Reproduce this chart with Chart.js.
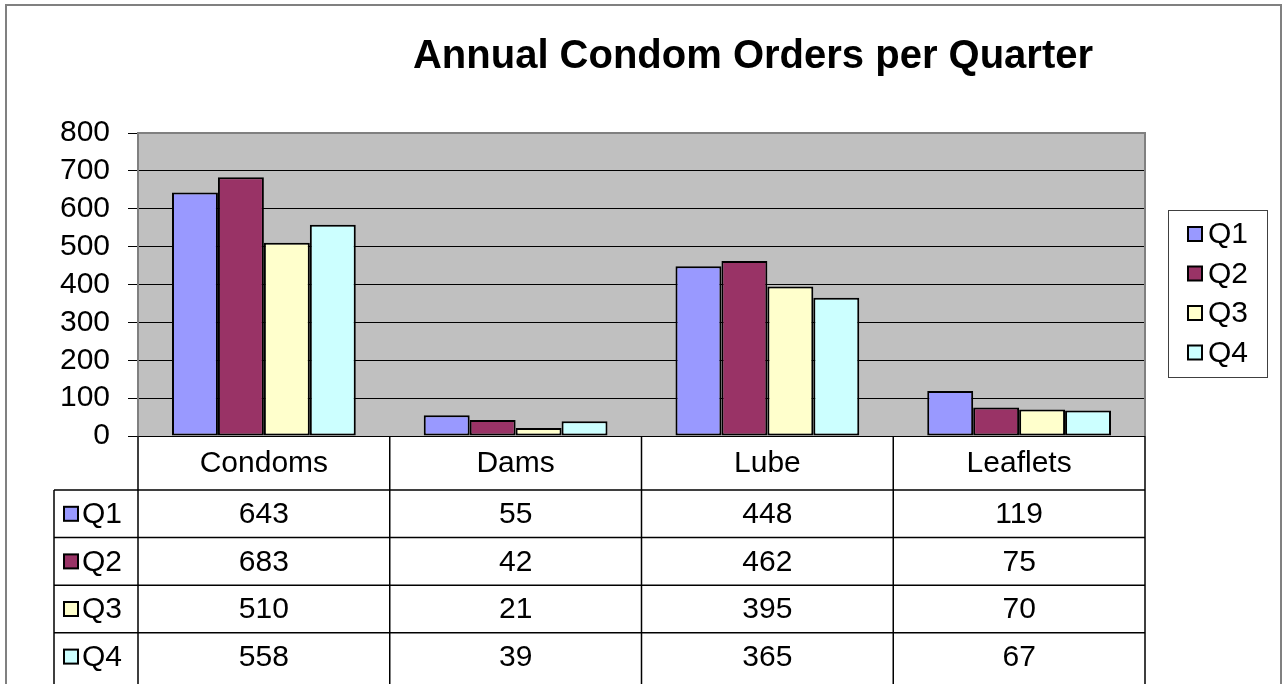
<!DOCTYPE html>
<html>
<head>
<meta charset="utf-8">
<title>Annual Condom Orders per Quarter</title>
<script src="https://cdn.jsdelivr.net/npm/chart.js@4"></script>
<style>
  body { margin: 0; background: #fff; }
  canvas { display: block; }
</style>
</head>
<body>
<canvas id="ordersChart" width="1287" height="684"></canvas>
<script>
// data
const categories = ['Condoms', 'Dams', 'Lube', 'Leaflets'];
const seriesNames = ['Q1', 'Q2', 'Q3', 'Q4'];
const q1 = [643, 55, 448, 119];
const q2 = [683, 42, 462, 75];
const q3 = [510, 21, 395, 70];
const q4 = [558, 39, 365, 67];
const yTicks = [0, 100, 200, 300, 400, 500, 600, 700, 800];

const seriesValues = [q1, q2, q3, q4];
const seriesColors = ['#9999FF', '#993366', '#FFFFCC', '#CCFFFF'];
const FONT = '"Liberation Sans", Arial, sans-serif';

Chart.defaults.font.family = FONT;
Chart.defaults.color = '#000';

// grey plot area + frame around it
const plotBg = {
    id: 'plotBg',
    beforeDraw(chart) {
        const ctx = chart.ctx;
        const a = chart.chartArea;
        ctx.save();
        ctx.fillStyle = '#fff';
        ctx.fillRect(0, 0, chart.width, chart.height);
        ctx.fillStyle = '#C0C0C0';
        ctx.fillRect(a.left, a.top, a.right - a.left, a.bottom - a.top);
        // outer frame (bottom is cut off in the picture)
        ctx.strokeStyle = '#808080';
        ctx.lineWidth = 2;
        ctx.beginPath();
        ctx.moveTo(6, chart.height + 5);
        ctx.lineTo(6, 5);
        ctx.lineTo(1281, 5);
        ctx.lineTo(1281, chart.height + 5);
        ctx.stroke();
        ctx.restore();
    },
    beforeDatasetsDraw(chart) {
        const ctx = chart.ctx;
        const a = chart.chartArea;
        ctx.save();
        ctx.strokeStyle = '#808080';
        ctx.lineWidth = 2;
        ctx.beginPath();
        ctx.moveTo(a.left, a.top);
        ctx.lineTo(a.right, a.top);
        ctx.lineTo(a.right, a.bottom);
        ctx.stroke();
        ctx.restore();
    }
};

// title, legend box and the data table under the plot
const extras = {
    id: 'extras',
    afterDraw(chart) {
        const ctx = chart.ctx;
        const a = chart.chartArea;
        const xs = chart.scales.x;
        const colW = (a.right - a.left) / categories.length;

        ctx.save();
        ctx.fillStyle = '#000';
        ctx.textBaseline = 'middle';

        // title
        ctx.font = 'bold 40px ' + FONT;
        ctx.textAlign = 'center';
        ctx.fillText('Annual Condom Orders per Quarter', 753, 57);

        // legend
        ctx.strokeStyle = '#404040';
        ctx.lineWidth = 1;
        ctx.strokeRect(1168.5, 210.5, 99, 167);
        ctx.font = '30px ' + FONT;
        ctx.textAlign = 'left';
        seriesNames.forEach(function(name, i) {
            const cy = 234 + i * 39.5;
            ctx.fillStyle = seriesColors[i];
            ctx.fillRect(1188, cy - 7, 14, 14);
            ctx.strokeStyle = '#000';
            ctx.lineWidth = 2;
            ctx.strokeRect(1188, cy - 7, 14, 14);
            ctx.fillStyle = '#000';
            ctx.fillText(name, 1208, cy + 1);
        });

        // data table
        const top = a.bottom;
        const catRowH = 54;
        const rowH = 47.6;
        const tableLeft = 54;
        ctx.strokeStyle = '#000';
        ctx.lineWidth = 1.5;
        ctx.beginPath();
        for (let i = 0; i <= categories.length; i++) {
            const x = a.left + i * colW;
            ctx.moveTo(x, top);
            ctx.lineTo(x, chart.height);
        }
        ctx.moveTo(tableLeft, top + catRowH);
        ctx.lineTo(tableLeft, chart.height);
        for (let r = 0; r < seriesNames.length; r++) {
            const y = top + catRowH + r * rowH;
            ctx.moveTo(tableLeft, y);
            ctx.lineTo(a.right, y);
        }
        ctx.stroke();

        ctx.font = '30px ' + FONT;
        ctx.textAlign = 'center';
        categories.forEach(function(cat, i) {
            ctx.fillText(cat, xs.getPixelForValue(i), top + catRowH / 2 + 1);
        });
        seriesValues.forEach(function(vals, r) {
            const cy = top + catRowH + r * rowH + rowH / 2;
            ctx.textAlign = 'center';
            vals.forEach(function(v, i) {
                ctx.fillText(String(v), xs.getPixelForValue(i), cy + 1);
            });
            ctx.fillStyle = seriesColors[r];
            ctx.fillRect(64, cy - 7, 14, 14);
            ctx.lineWidth = 2;
            ctx.strokeRect(64, cy - 7, 14, 14);
            ctx.fillStyle = '#000';
            ctx.textAlign = 'left';
            ctx.fillText(seriesNames[r], 82, cy + 1);
        });
        ctx.restore();
    }
};

const ctx = document.getElementById('ordersChart');

new Chart(ctx, {
    type: 'bar',
    data: {
        labels: categories,
        datasets: seriesNames.map(function(name, i) {
            return {
                label: name,
                data: seriesValues[i],
                backgroundColor: seriesColors[i],
                borderColor: '#000',
                borderWidth: 2,
                borderSkipped: false,
                barPercentage: 1,
                categoryPercentage: 0.73
            };
        })
    },
    options: {
        responsive: false,
        animation: false,
        layout: {
            padding: { left: 0, top: 133, right: 142, bottom: 248 }
        },
        scales: {
            x: {
                display: false
            },
            y: {
                min: 0,
                max: 800,
                afterFit: function(scale) { scale.width = 138; },
                afterBuildTicks: function(scale) {
                    scale.ticks = yTicks.map(function(v) { return { value: v }; });
                },
                ticks: {
                    font: { size: 30 },
                    color: '#000',
                    padding: 18,
                    autoSkip: false
                },
                grid: {
                    color: '#000',
                    lineWidth: 1,
                    tickLength: 10,
                    tickColor: '#000'
                },
                border: {
                    color: '#808080',
                    width: 2
                }
            }
        },
        plugins: {
            legend: { display: false },
            title: { display: false },
            tooltip: { enabled: false }
        }
    },
    plugins: [plotBg, extras]
});
</script>
</body>
</html>
